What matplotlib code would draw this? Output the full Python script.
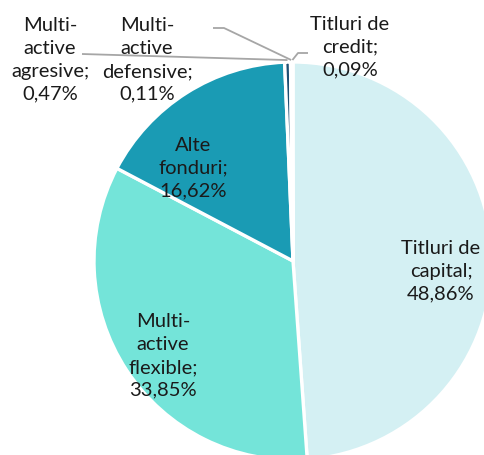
import numpy as np
import matplotlib
matplotlib.use("Agg")
import matplotlib.pyplot as plt

# Portfolio structure by asset class (%)
categories = ["Titluri de capital", "Multi-active flexible", "Alte fonduri",
              "Multi-active agresive", "Multi-active defensive", "Titluri de credit"]
label_names = ["Titluri de\ncapital;", "Multi-\nactive\nflexible;", "Alte\nfonduri;",
               "Multi-\nactive\nagresive;", "Multi-\nactive\ndefensive;", "Titluri de\ncredit;"]
shares = [48.86, 33.85, 16.62, 0.47, 0.11, 0.09]
colors = ["#d4f0f3", "#74e4d9", "#1a9bb4", "#1d4f73", "#0e6d80", "#bfe6ec"]

W, H = 484, 455
fig = plt.figure(figsize=(W / 100, H / 100), dpi=100)
ax = fig.add_axes([0, 0, 1, 1])

cx, cy, r = 293, H - 261, 199
wedges, _ = ax.pie(shares, colors=colors, startangle=90, counterclock=False,
                   center=(cx, cy), radius=r,
                   wedgeprops=dict(edgecolor="white", linewidth=2.4))
ax.set_xlim(0, W)
ax.set_ylim(0, H)
ax.set_aspect("equal")
ax.axis("off")

font = dict(family=["Lato", "DejaVu Sans"], fontsize=14.5, color="#1a1a1a",
            ha="center", va="center", linespacing=1.42)

# label anchor points (pixel coords from top-left)
label_pos = [(441, 271), (163, 356), (193, 168), (50, 60), (147, 60), (350, 47)]
for name, val, (x, y) in zip(label_names, shares, label_pos):
    txt = f"{name}\n{val:.2f}%".replace(".", ",")
    ax.text(x, H - y, txt, **font)

# leader lines for the thin slices
def edge_point(w, rr):
    ang = np.deg2rad((w.theta1 + w.theta2) / 2)
    return cx + rr * np.cos(ang), cy + rr * np.sin(ang)

leader_paths = {
    3: [(82, 54)],
    4: [(213, 28), (224, 28)],
    5: [(308, 53), (298, 53)],
}
for i, pts in leader_paths.items():
    ex, ey = edge_point(wedges[i], r + 2)
    xs = [p[0] for p in pts] + [ex]
    ys = [H - p[1] for p in pts] + [ey]
    ax.plot(xs, ys, color="#a6a6a6", lw=1.3, solid_capstyle="butt")

fig.savefig("out.png", dpi=100)
